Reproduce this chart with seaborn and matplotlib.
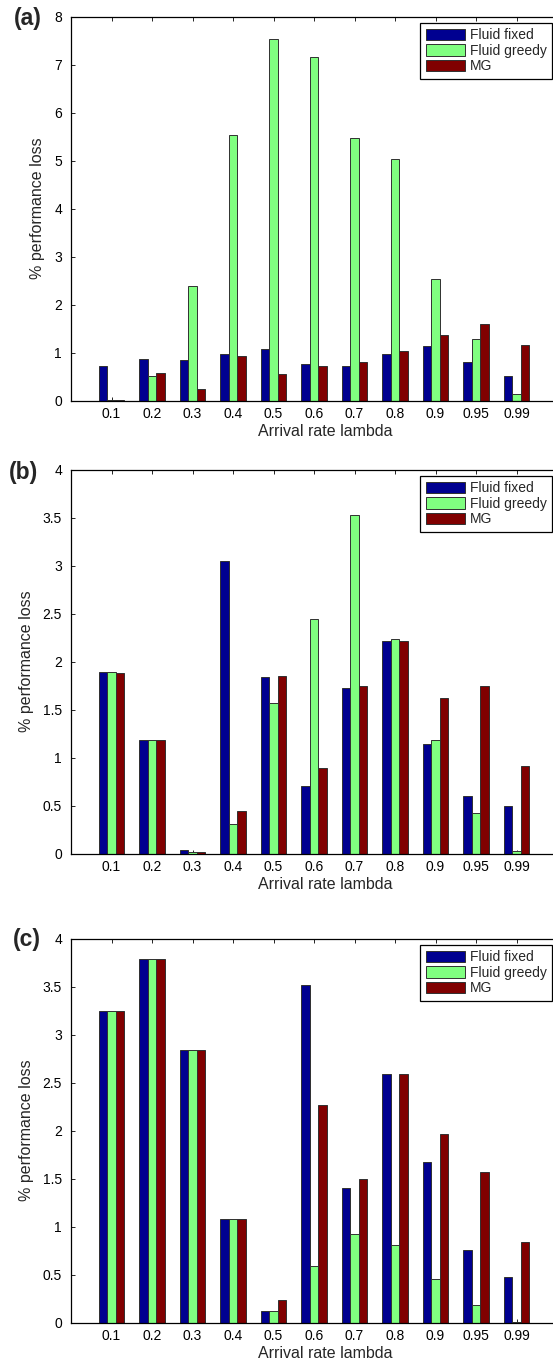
import numpy as np
import pandas as pd
import matplotlib
matplotlib.use("Agg")
import matplotlib.pyplot as plt
from matplotlib.ticker import FormatStrFormatter, MultipleLocator
import seaborn as sns

# ---------------- data ----------------
categories = ["0.1", "0.2", "0.3", "0.4", "0.5", "0.6", "0.7", "0.8", "0.9", "0.95", "0.99"]
series_names = ["Fluid fixed", "Fluid greedy", "MG"]

a_fixed  = [0.72, 0.87, 0.84, 0.96, 1.08, 0.77, 0.72, 0.96, 1.13, 0.80, 0.51]
a_greedy = [0.02, 0.51, 2.38, 5.53, 7.53, 7.15, 5.47, 5.04, 2.53, 1.28, 0.14]
a_mg     = [0.01, 0.58, 0.24, 0.92, 0.55, 0.72, 0.81, 1.04, 1.36, 1.59, 1.16]

b_fixed  = [1.895, 1.185, 0.035, 3.045, 1.84, 0.70, 1.72, 2.21, 1.14, 0.60, 0.49]
b_greedy = [1.89, 1.18, 0.02, 0.31, 1.57, 2.44, 3.53, 2.23, 1.18, 0.425, 0.03]
b_mg     = [1.885, 1.18, 0.02, 0.44, 1.845, 0.89, 1.745, 2.216, 1.62, 1.75, 0.916]

c_fixed  = [3.247, 3.787, 2.84, 1.08, 0.125, 3.515, 1.397, 2.59, 1.67, 0.756, 0.47]
c_greedy = [3.247, 3.787, 2.84, 1.08, 0.125, 0.585, 0.92, 0.81, 0.45, 0.178, 0.01]
c_mg     = [3.243, 3.787, 2.84, 1.08, 0.233, 2.265, 1.49, 2.59, 1.96, 1.565, 0.843]

panel_labels = ["(a)", "(b)", "(c)"]
xlabel_text = "Arrival rate lambda"
ylabel_text = "% performance loss"

colors = ["#000090", "#80FF80", "#800000"]

# ---------------- style ----------------
sns.set_style("white")
plt.rcParams["font.family"] = ["Liberation Sans", "DejaVu Sans"]

W, H = 553, 1365
fig = plt.figure(figsize=(W / 100, H / 100), dpi=100)

ax_left_px, ax_right_px = 71, 557
tops_px = [16.5, 469.5, 938.5]
ax_h_px = 384

panels = [
    (a_fixed, a_greedy, a_mg, 8, 1, "%g"),
    (b_fixed, b_greedy, b_mg, 4, 0.5, "%g"),
    (c_fixed, c_greedy, c_mg, 4, 0.5, "%g"),
]
label_centers = [(27.5, 18.5), (23.5, 473), (27, 939.5)]
ylabel_right = [45, 34, 34]

for i, (f, g, m, ymax, step, fmt) in enumerate(panels):
    rows = []
    for name, vals in zip(series_names, [f, g, m]):
        for c, v in zip(categories, vals):
            rows.append({"lam": c, "series": name, "value": v})
    df = pd.DataFrame(rows)

    left = ax_left_px / W
    width = (ax_right_px - ax_left_px) / W
    bottom = 1 - (tops_px[i] + ax_h_px) / H
    height = ax_h_px / H
    ax = fig.add_axes([left, bottom, width, height])

    sns.barplot(data=df, x="lam", y="value", hue="series", order=categories,
                hue_order=series_names, palette=colors, saturation=1,
                width=0.63, gap=0.05,
                errorbar=None, edgecolor="#303030", linewidth=0.7, ax=ax)

    ax.set_xlim(-1, 11)
    ax.set_ylim(0, ymax)
    ax.yaxis.set_major_locator(MultipleLocator(step))
    ax.yaxis.set_major_formatter(FormatStrFormatter(fmt))

    for sp in ax.spines.values():
        sp.set_visible(True)
        sp.set_color("black")
        sp.set_linewidth(0.9)

    ax.tick_params(axis="both", which="major", direction="in", length=3,
                   width=0.6, colors="black", labelsize=10,
                   top=True, right=True, bottom=True, left=True)
    ax.tick_params(axis="y", pad=6.5)
    ax.tick_params(axis="x", pad=4.5)

    ax.set_xlabel(xlabel_text, fontsize=11.5)
    ax.xaxis.set_label_coords((325 - ax_left_px) / (ax_right_px - ax_left_px), -0.062)
    ax.set_ylabel(ylabel_text, fontsize=11.5)
    ax.yaxis.set_label_coords((ylabel_right[i] - ax_left_px) / (ax_right_px - ax_left_px), 0.5)

    handles, labels = ax.get_legend_handles_labels()
    leg = ax.legend(handles, labels, loc="upper right",
                    bbox_to_anchor=((552 - ax_left_px) / (ax_right_px - ax_left_px),
                                    1 - 6.3 / ax_h_px),
                    borderaxespad=0, fontsize=10, frameon=True, fancybox=False,
                    shadow=False, handlelength=2.85, handleheight=0.9,
                    handletextpad=0.3, labelspacing=0.1, borderpad=0.4)
    leg.get_frame().set_edgecolor("black")
    leg.get_frame().set_linewidth(0.9)
    leg.get_frame().set_alpha(1)

    cx, cy = label_centers[i]
    fig.text(cx / W, 1 - cy / H, panel_labels[i], fontsize=16.5, fontweight="bold",
             ha="center", va="center")

fig.savefig("out.png", dpi=100)
